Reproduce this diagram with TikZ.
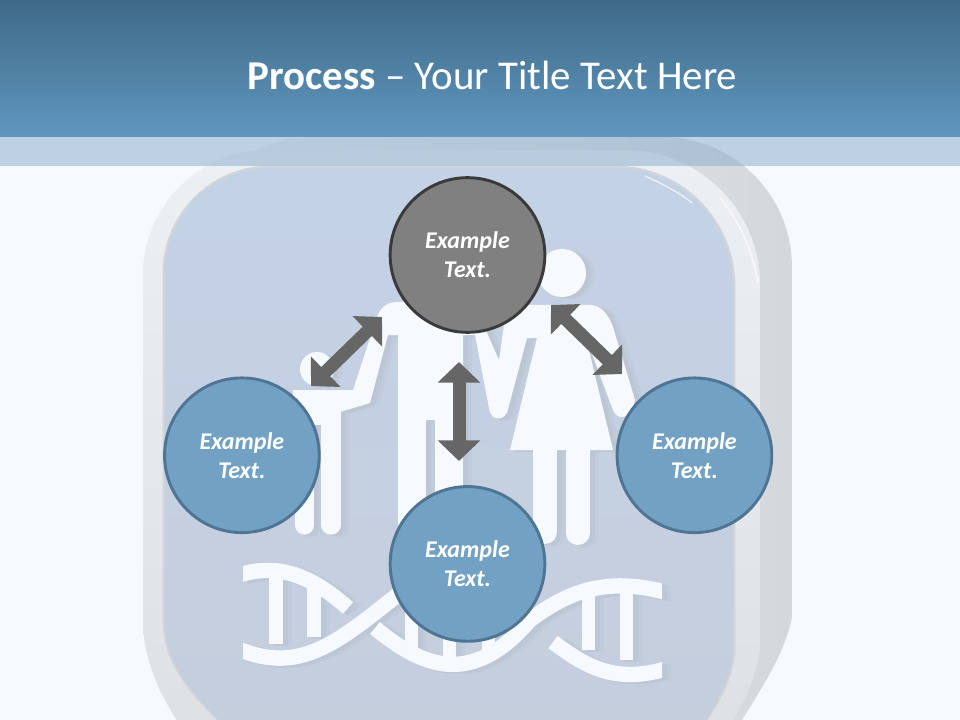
\documentclass[tikz,border=0pt]{standalone}
\usepackage{fontspec}
\setmainfont{Carlito}
\usetikzlibrary{arrows.meta, positioning}
\definecolor{page_bg}{HTML}{F6FAFE}
\definecolor{ink_grey}{HTML}{666666}
\definecolor{blue_fill}{HTML}{72A1C3}
\definecolor{blue_edge}{HTML}{4F7494}
\definecolor{grey_fill}{HTML}{808080}
\definecolor{grey_edge}{HTML}{3A3A3A}
\definecolor{shadow_soft}{HTML}{C0CCDC}
\definecolor{shadow_core}{HTML}{BCC6D4}
\definecolor{face_top}{HTML}{C4D2E6}
\definecolor{face_bottom}{HTML}{C5CEDD}
\definecolor{band_blue}{HTML}{8FB0CC}
\definecolor{head_top}{HTML}{3F6A87}
\definecolor{head_bottom}{HTML}{6097BF}
\tikzstyle{circle_blue}=[circle,draw=blue_edge,fill=blue_fill,line width=2.2pt,minimum size=116pt,inner sep=0pt,
   align=center,text=white,font=\fontsize{18}{21.75}\selectfont\bfseries\itshape]
\tikzstyle{circle_grey}=[circle_blue,draw=grey_edge,fill=grey_fill]
\tikzstyle{link_arrow}=[draw=ink_grey,line width=9.75pt,{Triangle[length=15.4pt,width=31pt,fill=ink_grey]}-{Triangle[length=15.4pt,width=31pt,fill=ink_grey]}]
\tikzstyle{strand}=[draw,line width=11.5pt]
\tikzstyle{rung}=[draw,line width=10pt]

% people and helix, drawn three times
\newcommand{\familyshapes}{
    % man
    \fill (375,323) .. controls (378,310) and (385,302) .. (397,302) -- (475,302) -- (487,333) -- (499,360)
        -- (507,413) -- (490,413) -- (475,335) -- (463,335) -- (463,420) -- (398,420) -- (398,335) -- (388,335)
        -- (370,403) -- (340,412) -- (293,412) -- (293,390) -- (353,390) -- cycle;
    \draw [line width=21pt,line cap=round] (412,415) -- (412,535);
    \draw [line width=21pt,line cap=round] (449,415) -- (449,535);
    % child
    \fill (317,369) circle (17);
    \fill (295,390) rectangle (341,425);
    \draw [line width=14.5pt,line cap=round] (304.5,420) -- (304.5,525);
    \draw [line width=14.5pt,line cap=round] (331,420) -- (331,525);
    % woman
    \fill (562,273) circle (24);
    \fill (498.5,410) circle (8.5);
    \fill (504,325) -- (499,360) -- (490,413) -- (507,413) -- (527,338) -- (537,338) -- (510,450) -- (613,450)
        -- (586,338) -- (613,410) .. controls (617,420) and (630,422) .. (635,400) -- (613,327)
        .. controls (608,313) and (600,305) .. (590,305) -- (510,305) -- cycle;
    \draw [line width=18pt,line cap=round] (545,445) -- (545,532);
    \draw [line width=18pt,line cap=round] (578,445) -- (578,533);
    % helix
    \begin{scope}
    \clip (243,540) rectangle (662,700);
    \draw [strand] (230,578) .. controls (265,565) and (300,565) .. (348,608);
    \draw [strand] (230,645) .. controls (300,680) and (340,640) .. (410,585);
    \draw [strand] (375,628) .. controls (420,665) and (470,690) .. (530,620) .. controls (570,590) and (610,575) .. (675,595);
    \draw [strand] (553,642) .. controls (590,670) and (620,685) .. (675,666);
    \foreach \rungx/\rungtop/\rungend in {276/572/644, 314/580/637, 411.5/590/655, 449.5/590/665, 488.5/590/653, 588.5/590/650, 626.5/585/660}
        \draw [rung] (\rungx,\rungtop) -- (\rungx,\rungend);
    \end{scope}
}

\begin{document}
\begin{tikzpicture}[x=0.75pt,y=-0.75pt]
\useasboundingbox (0,0) rectangle (960,720);
\clip (0,0) rectangle (960,720);
\fill [page_bg] (0,0) rectangle (960,720);

% button behind the figures
\shade [left color=black!3!page_bg,right color=black!14!page_bg]
    (310,137) -- (662,137) arc (-90:0:130) -- (792,617) .. controls (785,650) and (770,675) .. (742,720)
    -- (742,760) -- (190,760) -- (190,257) arc (180:270:120) -- cycle;
\shade [top color=black!4!page_bg,bottom color=black!10!page_bg]
    (268,150) -- (625,150) arc (-90:0:135) -- (760,650) .. controls (755,680) and (745,700) .. (730,725)
    -- (180,725) .. controls (160,695) and (143,660) .. (143,620) -- (143,275) arc (180:270:125) -- cycle;
\draw [black!15!page_bg,line width=2pt]
    (272,167) -- (615,167) arc (-90:0:119) -- (734,655) .. controls (730,680) and (720,700) .. (703,725)
    -- (223,725) .. controls (200,700) and (164,670) .. (164,620) -- (164,273) arc (180:270:106) -- cycle;
\shade [top color=face_top,bottom color=face_bottom]
    (272,168) -- (615,168) arc (-90:0:118) -- (733,655) .. controls (729,680) and (719,700) .. (703,725)
    -- (223,725) .. controls (200,700) and (165,670) .. (165,620) -- (165,273) arc (180:270:105) -- cycle;

% highlights on the rim
\draw [white,opacity=.7,line width=1pt] (645,176) .. controls (665,185) and (680,193) .. (692,203);
\draw [white,opacity=.7,line width=1pt] (720,198) .. controls (740,222) and (752,250) .. (758,282);

% pale band and header
\fill [band_blue,opacity=.55] (0,137) rectangle (960,166);
\shade [top color=head_top,bottom color=head_bottom] (0,0) rectangle (960,137);
\node [text=white,font=\fontsize{30.7}{36}\selectfont] (title) at (492.5,75) {\textbf{Process} -- Your Title Text Here};

% figures with their shadow
\begin{scope}[shift={(9,2)},color=shadow_soft,fill=shadow_soft]
    \familyshapes
\end{scope}
\begin{scope}[shift={(5,2)},color=shadow_core,fill=shadow_core]
    \familyshapes
\end{scope}
\begin{scope}[color=page_bg,fill=page_bg]
    \familyshapes
\end{scope}

% text circles
\node [circle_grey] (circle_top)                                          at (467.5,255) {Example\\Text.};
\node [circle_blue] (circle_bottom)  [below=113.5pt of circle_top]        {Example\\Text.};
\node [circle_blue] (circle_left)    [left=51pt of circle_bottom,yshift=81.5pt]   {Example\\Text.};
\node [circle_blue] (circle_right)   [right=52pt of circle_bottom,yshift=81.5pt]  {Example\\Text.};

% arrow ends
\coordinate (left_end_a)   at (311,386);
\coordinate (left_end_b)   at (382,317);
\coordinate (right_end_a)  at (551,305);
\coordinate (right_end_b)  at (622,374);
\coordinate (middle_end_a) at (459,362);
\coordinate (middle_end_b) at (459,461);

% double arrows
\draw [link_arrow] (left_end_a) -- (left_end_b);
\draw [link_arrow] (right_end_a) -- (right_end_b);
\draw [link_arrow] (middle_end_a) -- (middle_end_b);

\end{tikzpicture}
\end{document}
